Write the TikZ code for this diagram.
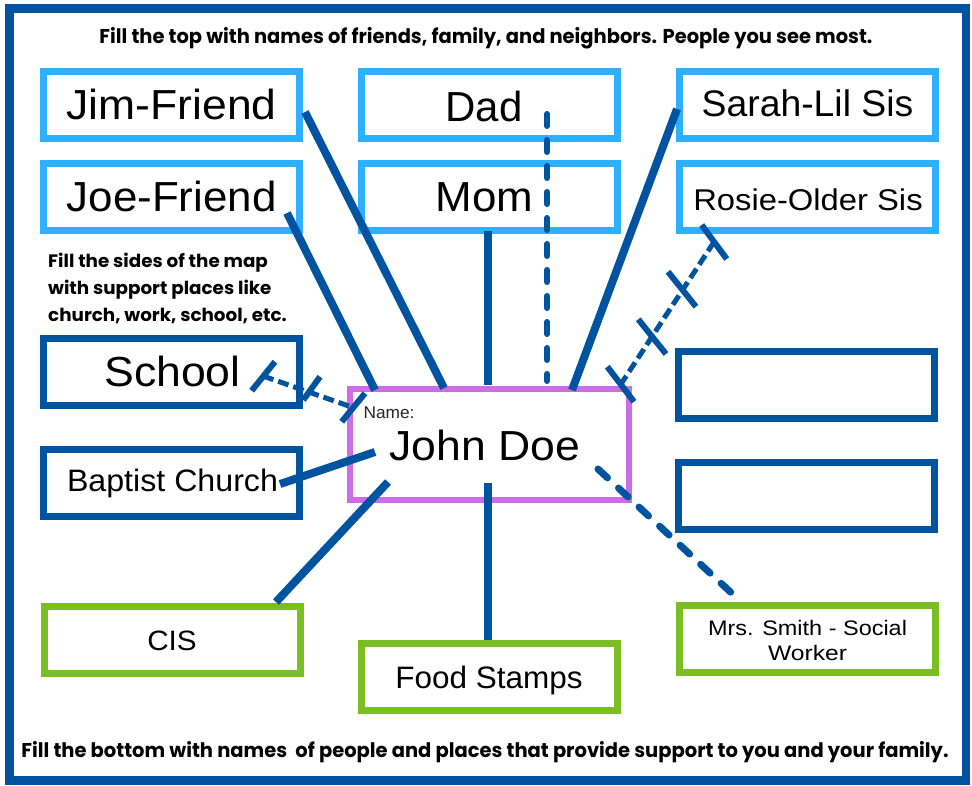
\documentclass[tikz,border=0pt]{standalone}
\usepackage{fontspec}
\usepackage{graphicx}
\setmainfont{Liberation Sans}
\newfontfamily\instrfont{Poppins}
\definecolor{lightblue}{RGB}{46,175,255}
\definecolor{darkblue}{RGB}{0,84,159}
\definecolor{namepurple}{RGB}{204,108,230}
\definecolor{suppgreen}{RGB}{122,190,36}
\newcommand\fitt[3]{\resizebox{#2pt}{\height}{\fontsize{#1pt}{#1pt}\selectfont #3}}
\newcommand\fiti[3]{\resizebox{#2pt}{\height}{\instrfont\bfseries\fontsize{#1pt}{#1pt}\selectfont #3}}
\begin{document}
\begin{tikzpicture}[x=1pt,y=-1pt,
  box/.style={draw, line width=7pt, inner sep=0pt, minimum width=256pt, minimum height=67pt},
  famb/.style={box, draw=lightblue},
  placeb/.style={box, draw=darkblue},
  suppb/.style={box, draw=suppgreen},
  nameb/.style={draw=namepurple, line width=6pt, inner sep=0pt, minimum width=279pt, minimum height=111pt},
  txt/.style={anchor=base, inner sep=0pt, text=black},
  conn/.style={draw=darkblue, line width=8pt},
  dconn/.style={draw=darkblue, line width=6pt, line cap=round, dash pattern=on 12pt off 14pt},
  bigdconn/.style={draw=darkblue, line width=7pt, line cap=round, dash pattern=on 13pt off 15pt},
  stressline/.style={draw=darkblue, line width=5pt, dash pattern=on 11pt off 5pt},
  tick/.style={draw=darkblue, line width=6pt}
]
\useasboundingbox (0,0) rectangle (972,785);
\fill[white] (0,0) rectangle (972,785);
\draw[darkblue, line width=8.5pt] (9.5,8.5) rectangle (966,780.5);

% family boxes
\node[famb] (jimb) at (171.5,105.3) {};
\node[famb] (dadb) at (489,105.3) {};
\node[famb] (sarab) at (807,105.3) {};
\node[famb] (joeb) at (171.5,196.7) {};
\node[famb] (momb) at (489,196.7) {};
\node[famb] (rosieb) at (807,196.7) {};
% place boxes
\node[placeb] (schoolb) at (171.5,372) {};
\node[placeb] (baptb) at (171.5,483) {};
\node[placeb] (empty1) at (806.5,384.5) {};
\node[placeb] (empty2) at (806.5,495.5) {};
% support boxes
\node[suppb] (cisb) at (172,639.5) {};
\node[suppb] (foodb) at (489,676.5) {};
\node[suppb] (smithb) at (807.5,639) {};
% name box
\node[nameb] (nameb) at (489.5,444.5) {};

% texts
\node[txt] (jimt) at (171.7,119.3) {\fitt{42}{210}{Jim-Friend}};
\node[txt] (dadt) at (484,121) {\fitt{42}{77}{Dad}};
\node[txt] (sarat) at (807.5,116.7) {\fitt{37}{211.6}{Sarah-Lil Sis}};
\node[txt] (joet) at (171.7,211.5) {\fitt{42}{210}{Joe-Friend}};
\node[txt] (momt) at (484.5,211.7) {\fitt{42}{97.6}{Mom}};
\node[txt] (rosiet) at (808,210) {\fitt{30}{229.4}{Rosie-Older Sis}};
\node[txt] (schoolt) at (172.5,386.7) {\fitt{42}{136.4}{School}};
\node[txt] (baptt) at (172.5,491.7) {\fitt{31}{211}{Baptist Church}};
\node[txt, anchor=base west, text=black!85] (namelbl) at (363.3,418.3) {\fitt{17}{51}{Name:}};
\node[txt] (namet) at (484.7,460) {\fitt{42}{190.7}{John Doe}};
\node[txt] (cist) at (172,650) {\fitt{28}{49.5}{CIS}};
\node[txt] (foodt) at (489,688.3) {\fitt{31}{187.3}{Food Stamps}};
\node[txt] (smitht1) at (807.5,635) {\fitt{21}{199}{Mrs. Smith - Social}};
\node[txt] (smitht2) at (807.5,660) {\fitt{21}{79}{Worker}};

% instructions
\node[txt] (toptxt) at (486,43.3) {\fiti{20}{773}{Fill the top with names of friends, family, and neighbors. People you see most.}};
\node[txt, anchor=base west] (side1) at (48,267.7) {\fiti{18}{219.7}{Fill the sides of the map}};
\node[txt, anchor=base west] (side2) at (48,294.3) {\fiti{18}{223.3}{with support places like}};
\node[txt, anchor=base west] (side3) at (48,321) {\fiti{18}{238.7}{church, work, school, etc.}};
\node[txt] (bottxt) at (485,757) {\fiti{20}{927}{Fill the bottom with names\ \ of people and places that provide support to you and your family.}};

% connector end points
\coordinate (jimA) at (305,112);   \coordinate (jimB) at (444,388);
\coordinate (joeA) at (287,213);   \coordinate (joeB) at (375,390);
\coordinate (momA) at (488.3,231); \coordinate (momB) at (488.3,385);
\coordinate (dadA) at (547,114);   \coordinate (dadB) at (547,381);
\coordinate (saraA) at (677,109);  \coordinate (saraB) at (572,390);
\coordinate (rosA) at (714,242);   \coordinate (rosB) at (621,384);
\coordinate (schA) at (263,376);   \coordinate (schB) at (353,407.5);
\coordinate (bapA) at (280,484);   \coordinate (bapB) at (375,452);
\coordinate (cisA) at (276,602);   \coordinate (cisB) at (388,482);
\coordinate (foodA) at (488.3,483);\coordinate (foodB) at (488.3,640);
\coordinate (smA) at (598,469);    \coordinate (smB) at (738,599);

% connectors
\draw[conn] (jimA) -- (jimB);
\draw[conn] (joeA) -- (joeB);
\draw[conn] (momA) -- (momB);
\draw[dconn] (dadA) -- (dadB);
\draw[conn] (saraA) -- (saraB);
\draw[conn] (bapA) -- (bapB);
\draw[conn] (cisA) -- (cisB);
\draw[conn] (foodA) -- (foodB);
\draw[bigdconn] (smA) -- (smB);

% stressful connectors with hash marks
\draw[stressline] (rosA) -- (rosB);
\draw[tick] (701.7,225) -- (726.7,259);
\draw[tick] (668,271.7) -- (696,306.7);
\draw[tick] (638.3,319.3) -- (666,354);
\draw[tick] (607.3,366.7) -- (634,401.7);

\draw[stressline] (schA) -- (schB);
\draw[tick] (275,361.7) -- (251.7,390.7);
\draw[tick] (320,376.7) -- (303.3,400);
\draw[tick] (365,393.3) -- (341.7,421.7);
\end{tikzpicture}
\end{document}
